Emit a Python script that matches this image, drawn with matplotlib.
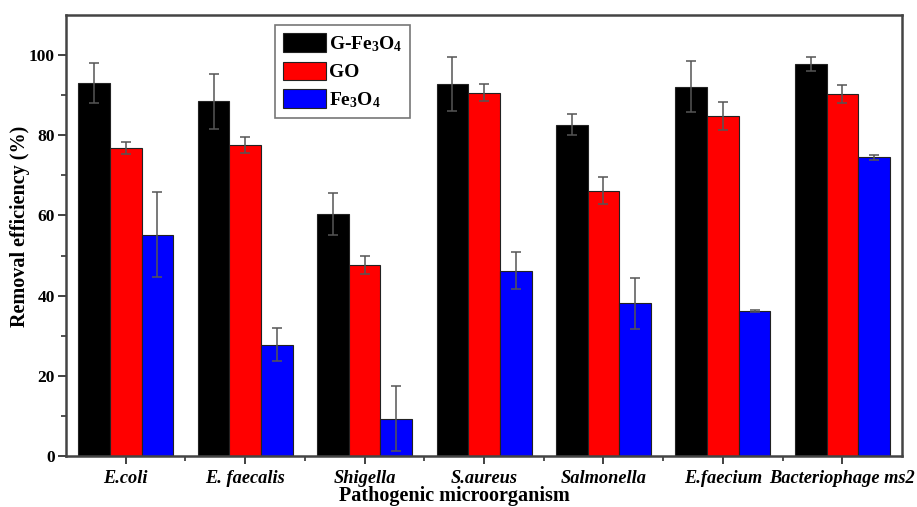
import numpy as np
import matplotlib
matplotlib.use("Agg")
import matplotlib.pyplot as plt

plt.rcParams["font.family"] = ["Liberation Serif", "DejaVu Serif"]
plt.rcParams["font.weight"] = "bold"
plt.rcParams["mathtext.default"] = "regular"

# Data
organisms = ["E.coli", "E. faecalis", "Shigella", "S.aureus",
             "Salmonella", "E.faecium", "Bacteriophage ms2"]
g_fe3o4 = [93.1, 88.5, 60.3, 92.8, 82.7, 92.2, 97.8]
g_fe3o4_err = [5.0, 6.8, 5.2, 6.7, 2.7, 6.3, 1.7]
go = [76.9, 77.5, 47.7, 90.7, 66.2, 84.9, 90.3]
go_err = [1.5, 2.0, 2.2, 2.2, 3.3, 3.5, 2.3]
fe3o4 = [55.2, 27.7, 9.3, 46.2, 38.1, 36.1, 74.5]
fe3o4_err = [10.6, 4.1, 8.2, 4.6, 6.4, 0.2, 0.6]

series = [
    ("G-Fe$_3$O$_4$", g_fe3o4, g_fe3o4_err, "black"),
    ("GO", go, go_err, "#ff0000"),
    ("Fe$_3$O$_4$", fe3o4, fe3o4_err, "#0000ff"),
]

fig = plt.figure(figsize=(9.17, 5.07), dpi=100)
ax = fig.add_axes([0.072, 0.101, 0.9117, 0.869])

x = np.arange(1, len(organisms) + 1)
width = 0.265
for i, (label, vals, errs, color) in enumerate(series):
    ax.bar(x + (i - 1) * width, vals, width, color=color, edgecolor="#222222",
           linewidth=0.8, label=label, zorder=2)
    ax.errorbar(x + (i - 1) * width, vals, yerr=errs, fmt="none",
                ecolor="#555555", elinewidth=1.1, capsize=3.5, capthick=1.1,
                zorder=3)

ax.set_xlim(0.5, 7.5)
ax.set_ylim(0, 110)
ax.set_xticks(x)
ax.set_xticklabels(organisms, fontsize=13.2, fontstyle="italic", fontweight="bold")
ax.set_xticks(np.arange(1.5, 7.5, 1.0), minor=True)
ax.set_yticks(np.arange(0, 101, 20))
ax.set_yticks(np.arange(10, 101, 20), minor=True)
ax.tick_params(axis="y", labelsize=12.5, direction="out", length=6, width=1.3,
               color="#333333", pad=2)
ax.tick_params(axis="y", which="minor", direction="out", length=3.5, width=1.2,
               color="#333333")
ax.tick_params(axis="x", direction="out", length=6, width=1.3, color="#333333", pad=4)
ax.tick_params(axis="x", which="minor", direction="out", length=3.5, width=1.2,
               color="#333333")
for lbl in ax.get_yticklabels():
    lbl.set_fontweight("bold")

for sp in ax.spines.values():
    sp.set_linewidth(1.8)
    sp.set_color("#444444")

ax.set_ylabel("Removal efficiency (%)", fontsize=14.5, fontweight="bold")
ax.yaxis.set_label_coords(-0.043, 0.52)
ax.set_xlabel("Pathogenic microorganism", fontsize=14.5, fontweight="bold")
ax.xaxis.set_label_coords(0.465, -0.068)

leg = ax.legend(loc="upper left", bbox_to_anchor=(0.25, 0.977), fontsize=14,
                frameon=True, fancybox=False, edgecolor="#555555",
                handlelength=2.2, handleheight=1.1, labelspacing=0.4,
                handletextpad=0.15, borderpad=0.4, borderaxespad=0)
leg.get_frame().set_linewidth(1.2)
for t in leg.get_texts():
    t.set_fontweight("bold")

fig.savefig("out.png", dpi=100)
